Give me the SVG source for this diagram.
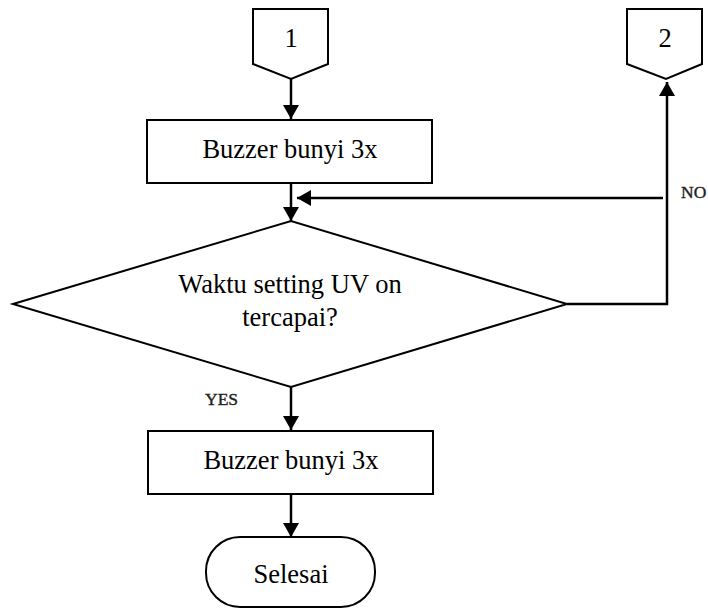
<svg xmlns="http://www.w3.org/2000/svg" width="708" height="610" viewBox="0 0 708 610">
<style>
.s{fill:#fff;stroke:#000;stroke-width:2}
.l{fill:none;stroke:#000;stroke-width:2.5}
.t{font-family:"Liberation Serif","Times New Roman",serif;font-size:26.5px;fill:#000;text-anchor:middle}
.lab{font-family:"Liberation Serif","Times New Roman",serif;font-size:17.5px;fill:#222;stroke:#222;stroke-width:0.4;text-anchor:start}
</style>
<defs>
<marker id="ah" viewBox="0 0 14 16" refX="14" refY="8" markerWidth="14" markerHeight="16" markerUnits="userSpaceOnUse" orient="auto">
<path d="M0,0 L14,8 L0,16 Z" fill="#000"/>
</marker>
</defs>
<rect width="708" height="610" fill="#fff"/>
<g id="connectors">
<line class="l" x1="291" y1="79" x2="291" y2="119" marker-end="url(#ah)"/>
<line class="l" x1="291" y1="183" x2="291" y2="221" marker-end="url(#ah)"/>
<polyline class="l" points="567,304 667,304 667,82" marker-end="url(#ah)"/>
<line class="l" x1="663" y1="198" x2="297" y2="198" marker-end="url(#ah)"/>
<line class="l" x1="291" y1="387" x2="291" y2="430" marker-end="url(#ah)"/>
<line class="l" x1="291" y1="494" x2="291" y2="537" marker-end="url(#ah)"/>
</g>
<g id="conn1">
<polygon class="s" points="253,9 328,9 328,64 291,79 253,64"/>
<text class="t" x="291" y="47">1</text>
</g>
<g id="conn2">
<polygon class="s" points="627,9 702,9 702,64 666,79 627,64"/>
<text class="t" x="665" y="47">2</text>
</g>
<g id="buzzer1">
<rect class="s" x="147" y="120" width="285" height="63"/>
<text class="t" x="290" y="158">Buzzer bunyi 3x</text>
</g>
<g id="decision">
<polygon class="s" points="13,304 291,221 567,304 291,387"/>
<text class="t" x="290" y="293">Waktu setting UV on</text>
<text class="t" x="290" y="326">tercapai?</text>
</g>
<g id="buzzer2">
<rect class="s" x="148" y="431" width="285" height="63"/>
<text class="t" x="291" y="469">Buzzer bunyi 3x</text>
</g>
<g id="selesai">
<rect class="s" x="206" y="537" width="169" height="70" rx="34" ry="34"/>
<text class="t" x="291" y="583">Selesai</text>
</g>
<g id="labels">
<text class="lab" x="681" y="198">NO</text>
<text class="lab" x="205" y="405">YES</text>
</g>
</svg>
